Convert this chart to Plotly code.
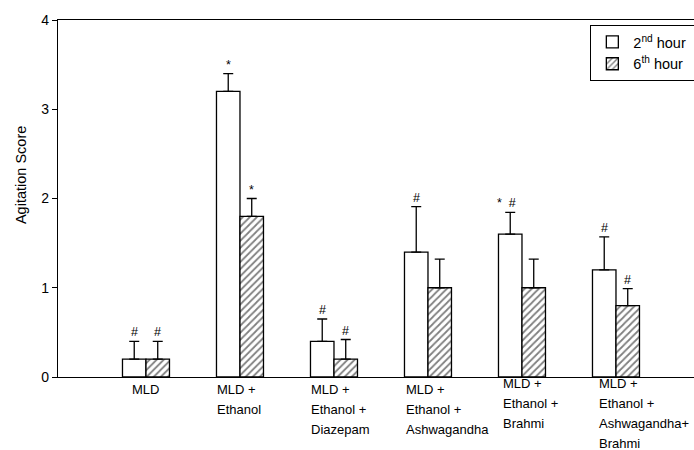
import plotly.graph_objects as go

# ---- data ----
groups = ["MLD", "MLD + Ethanol", "MLD + Ethanol + Diazepam", "MLD + Ethanol + Ashwagandha",
          "MLD + Ethanol + Brahmi", "MLD + Ethanol + Ashwagandha+ Brahmi"]
label_lines = [["MLD"],
               ["MLD +", "Ethanol"],
               ["MLD +", "Ethanol +", "Diazepam"],
               ["MLD +", "Ethanol +", "Ashwagandha"],
               ["MLD +", "Ethanol +", "Brahmi"],
               ["MLD +", "Ethanol +", "Ashwagandha+", "Brahmi"]]
hour2 = [0.2, 3.2, 0.4, 1.4, 1.6, 1.2]
hour2_err = [0.2, 0.2, 0.25, 0.51, 0.245, 0.37]
hour6 = [0.2, 1.8, 0.2, 1.0, 1.0, 0.8]
hour6_err = [0.2, 0.2, 0.22, 0.32, 0.32, 0.19]
hour2_sig = ["#", "*", "#", "#", "*  #", "#"]
hour6_sig = ["#", "*", "#", "", "", "#"]
y_ticks = [0, 1, 2, 3, 4]

xs = list(range(len(groups)))
FONT = "Liberation Sans, Arial, sans-serif"
PAD = "\u00a0\u00a0"

fig = go.Figure()
fig.add_trace(go.Bar(
    x=xs, y=hour2, name="2<sup>nd</sup> hour" + PAD,
    marker=dict(color="white", line=dict(color="black", width=1.3)),
    error_y=dict(type="data", array=hour2_err, arrayminus=[0]*6, symmetric=False,
                 color="black", thickness=1.3, width=5),
))
fig.add_trace(go.Bar(
    x=xs, y=hour6, name="6<sup>th</sup> hour" + PAD,
    marker=dict(color="white", line=dict(color="black", width=1.3),
                pattern=dict(shape="/", fgcolor="black", bgcolor="white", size=5, solidity=0.35)),
    error_y=dict(type="data", array=hour6_err, arrayminus=[0]*6, symmetric=False,
                 color="black", thickness=1.3, width=5),
))

annotations = []
for i in xs:
    for sig, val, err, off in ((hour2_sig[i], hour2[i], hour2_err[i], -0.125),
                               (hour6_sig[i], hour6[i], hour6_err[i], 0.125)):
        if sig:
            annotations.append(dict(
                x=i + off, y=val + err, xref="x", yref="y", text=sig, showarrow=False,
                yanchor="bottom", yshift=0, xshift=-4 if "*  #" == sig else 0,
                font=dict(family=FONT, size=12.5, color="black")))

# category labels (left aligned, multi-line)
xshifts = [0, 1, 1, 2, 5, 7]
for i, lines in enumerate(label_lines):
    first = 383 if i >= 4 else 389
    step = 20
    for k, line in enumerate(lines):
        ypix = first + k * step
        if i == 0:
            annotations.append(dict(x=i, y=0, xref="x", yref="y", text=line, showarrow=False,
                                    xanchor="center", yanchor="middle", yshift=377 - ypix,
                                    font=dict(family=FONT, size=13, color="black")))
        else:
            annotations.append(dict(x=i - 0.25, y=0, xref="x", yref="y", text=line, showarrow=False,
                                    xanchor="left", yanchor="middle", yshift=377 - ypix,
                                    xshift=xshifts[i] - 2,
                                    font=dict(family=FONT, size=13, color="black")))

annotations.append(dict(x=-0.058, y=0.566, xref="paper", yref="paper", text="Agitation Score",
                        textangle=-90, showarrow=False, xanchor="center", yanchor="middle",
                        font=dict(family=FONT, size=14.5, color="black")))

fig.update_layout(
    width=694, height=450,
    margin=dict(l=58, r=0, t=20, b=73, autoexpand=False),
    paper_bgcolor="white", plot_bgcolor="white",
    barmode="group", bargap=0.5, bargroupgap=0,
    showlegend=True,
    legend=dict(x=0.837, y=0.986, xanchor="left", yanchor="top",
                bgcolor="white", bordercolor="black", borderwidth=1,
                font=dict(family=FONT, size=14.5, color="black"),
                tracegroupgap=0, itemwidth=32),
    annotations=annotations,
    font=dict(family=FONT, color="black"),
)
fig.update_xaxes(range=[-0.936, 5.83], showticklabels=False, ticks="", showgrid=False,
                 zeroline=False, showline=True, linecolor="black", linewidth=1.2,
                 mirror=True)
fig.update_yaxes(range=[0, 4], tickvals=y_ticks, ticks="outside", ticklen=5, tickwidth=1.2,
                 tickcolor="black", showgrid=False, zeroline=False, showline=True,
                 linecolor="black", linewidth=1.2,
                 tickfont=dict(family=FONT, size=14, color="black"))

fig.write_html("out.html", config={"displayModeBar": False},
               post_script="document.body.style.margin='0px';document.body.style.overflow='hidden';")
